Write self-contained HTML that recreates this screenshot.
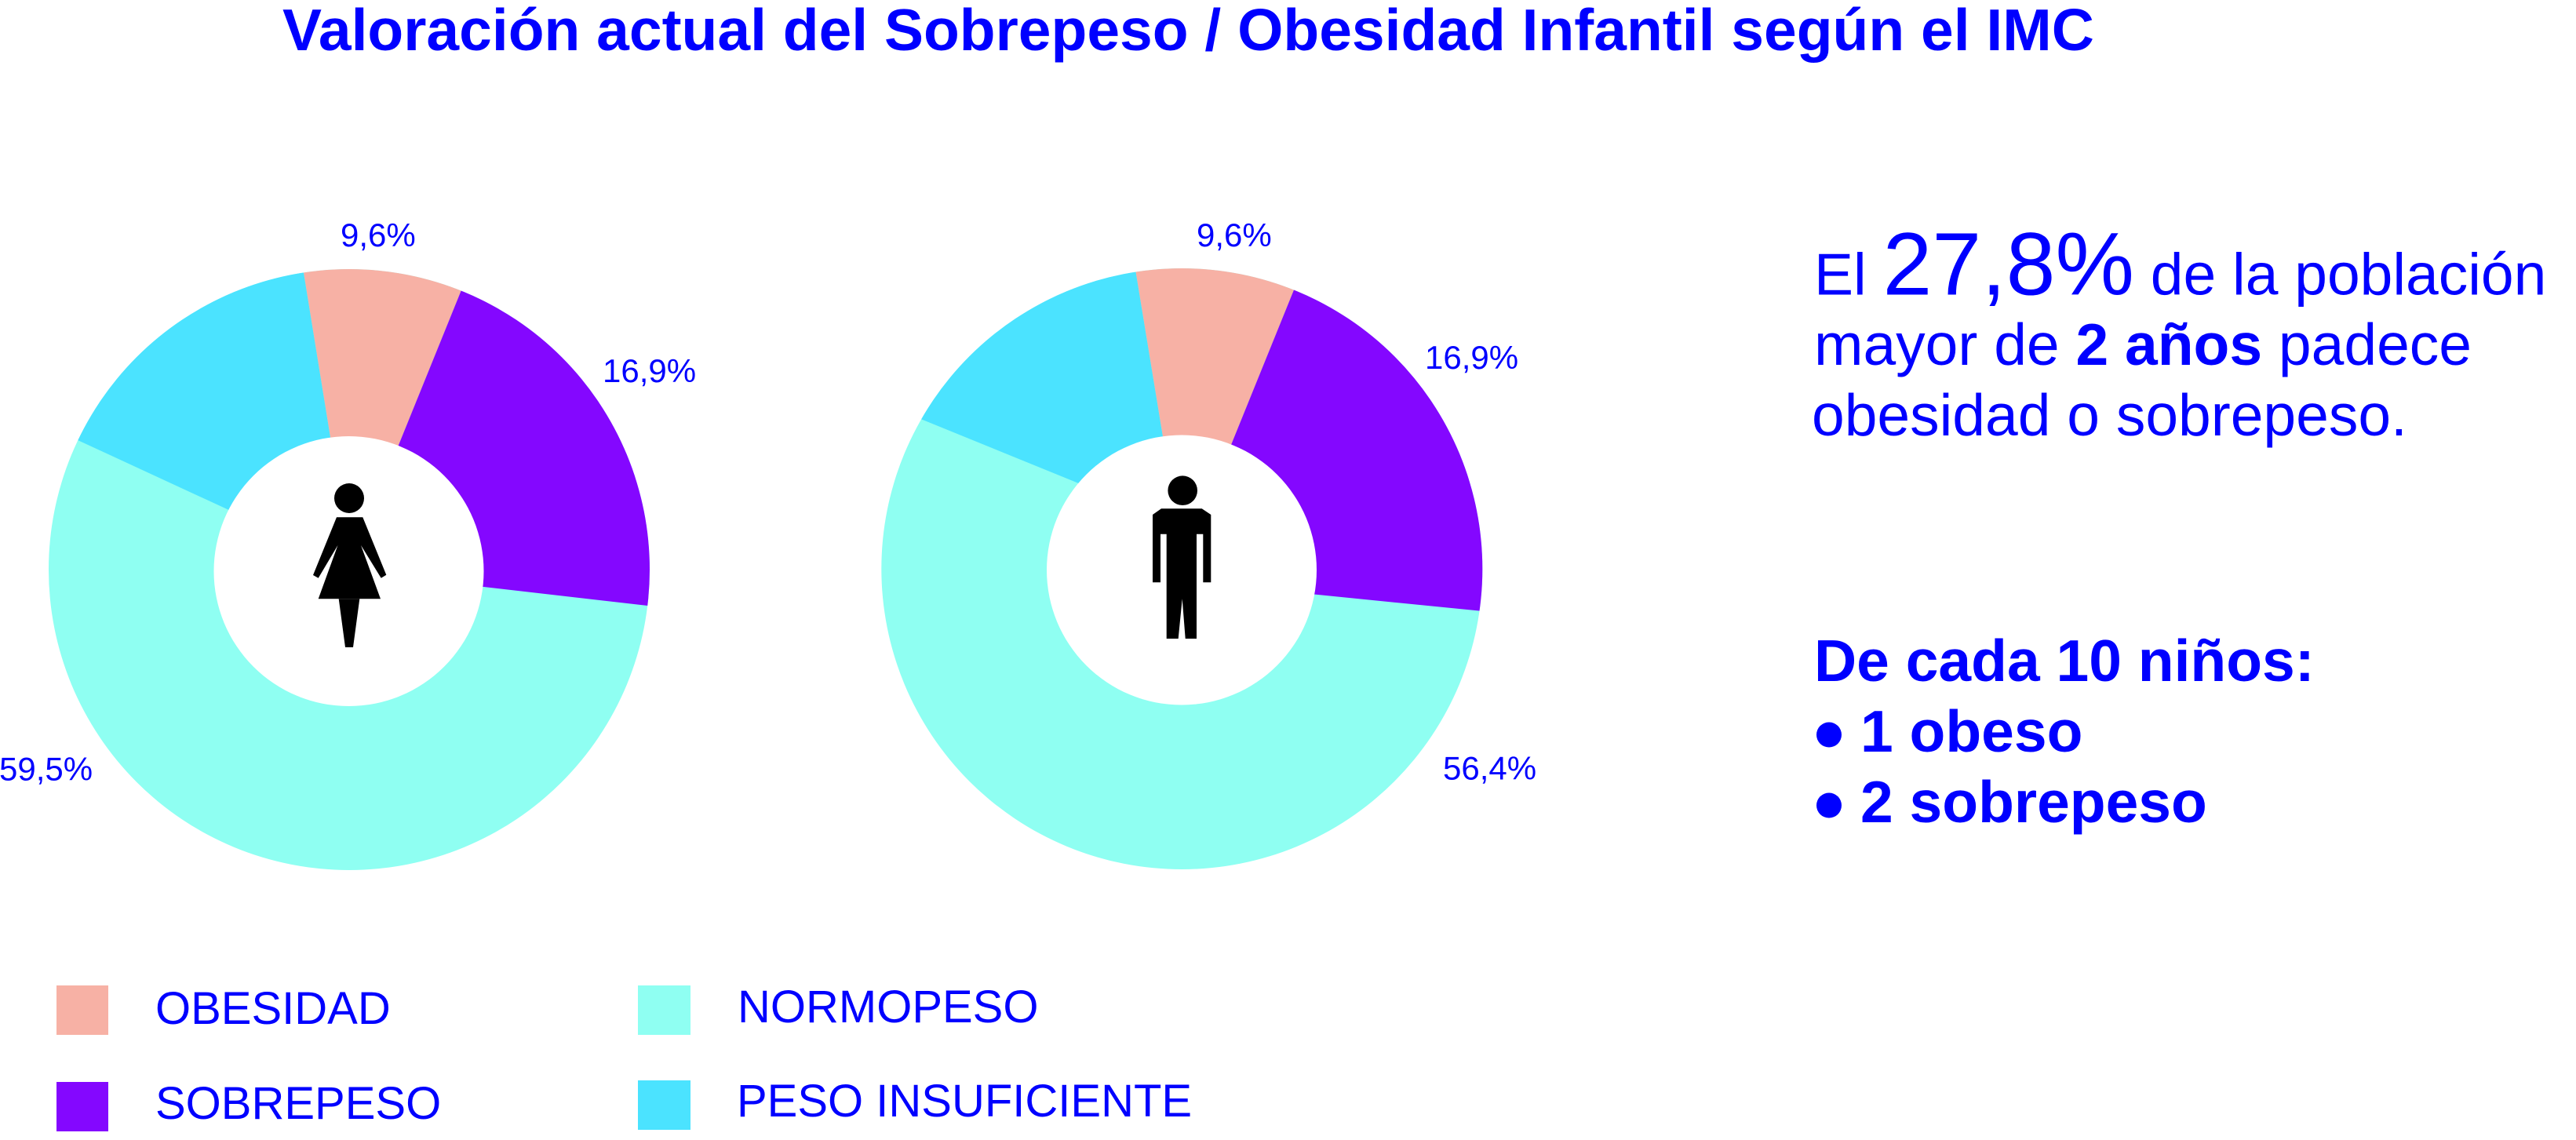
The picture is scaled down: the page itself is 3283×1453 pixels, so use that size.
<!DOCTYPE html>
<html>
<head>
<meta charset="utf-8">
<style>
  html, body { margin: 0; padding: 0; background: #ffffff; }
  body { width: 3283px; height: 1453px; overflow: hidden; }
  svg { display: block; }
  text { font-family: "Liberation Sans", Arial, sans-serif; fill: #0000FF; }
</style>
</head>
<body>
<svg xmlns="http://www.w3.org/2000/svg" width="3283" height="1453" viewBox="0 0 3283 1453">
  <rect x="0" y="0" width="3283" height="1453" fill="#ffffff"/>
  <defs>
    <clipPath id="clipL"><circle cx="445" cy="726" r="383"/></clipPath>
    <clipPath id="clipR"><circle cx="1506.3" cy="725" r="383"/></clipPath>
  </defs>

  <!-- Title -->
  <text x="360" y="64" font-size="75" font-weight="bold">Valoración actual del Sobrepeso / Obesidad Infantil según el IMC</text>

  <!-- LEFT DONUT -->
  <g clip-path="url(#clipL)">
    <rect x="40" y="320" width="820" height="820" fill="#8FFFF2"/>
    <polygon points="328,666.8 -126,457 347,100.8 427.4,596.5" fill="#4BE3FF"/>
    <polygon points="427.4,596.5 347,100.8 680.5,141.4 492.5,605.5" fill="#F7B1A5"/>
    <polygon points="492.5,605.5 680.5,141.4 1073,800.5 576.3,743.4" fill="#8407FF"/>
  </g>
  <circle cx="444.5" cy="728" r="172" fill="#ffffff"/>
  <!-- female icon -->
  <circle cx="445" cy="635" r="19" fill="#000"/>
  <polygon points="429,659.3 462.3,659.3 492.3,732.7 485.7,736.7 460,695 485,763.3 405.7,763.3 430.5,695 405.7,736.7 399,733" fill="#000"/>
  <polygon points="431.7,763.3 458.3,763.3 450,825 440,825" fill="#000"/>

  <text x="434" y="314" font-size="42">9,6%</text>
  <text x="768" y="487" font-size="42">16,9%</text>
  <text x="-1" y="994.5" font-size="42">59,5%</text>

  <!-- RIGHT DONUT -->
  <g clip-path="url(#clipR)">
    <rect x="1100" y="320" width="820" height="820" fill="#8FFFF2"/>
    <polygon points="1411,630.8 944.5,440.7 1407,99.8 1488.5,596" fill="#4BE3FF"/>
    <polygon points="1488.5,596 1407,99.8 1741.9,140.3 1554,604" fill="#F7B1A5"/>
    <polygon points="1554,604 1741.9,140.3 2133.3,803.3 1635.2,753.6" fill="#8407FF"/>
  </g>
  <circle cx="1506" cy="726.5" r="172" fill="#ffffff"/>
  <!-- male icon -->
  <circle cx="1507.2" cy="625.2" r="18.8" fill="#000"/>
  <polygon points="1480,648.3 1531.7,648.3 1543.3,656 1543.3,742.3 1533.3,742.3 1533.3,680.7 1525,680.7 1525,814 1510.7,814 1506.7,763.3 1501.7,814 1486.7,814 1486.7,680.7 1479,680.7 1479,742.3 1469,742.3 1469,656" fill="#000"/>

  <text x="1525" y="314" font-size="42">9,6%</text>
  <text x="1816" y="470" font-size="42">16,9%</text>
  <text x="1839" y="993.5" font-size="42">56,4%</text>

  <!-- Right text block -->
  <text x="2312" y="375.7" font-size="75">El <tspan font-size="113">27,8%</tspan> de la población</text>
  <text x="2312" y="465" font-size="75">mayor de <tspan font-weight="bold">2 años</tspan> padece</text>
  <text x="2309" y="555" font-size="75">obesidad o sobrepeso.</text>

  <text x="2312" y="868" font-size="75" font-weight="bold">De cada 10 niños:</text>
  <circle cx="2331" cy="936.5" r="16" fill="#0000FF"/>
  <text x="2371" y="958" font-size="75" font-weight="bold">1 obeso</text>
  <circle cx="2331" cy="1026.5" r="16" fill="#0000FF"/>
  <text x="2371" y="1048" font-size="75" font-weight="bold">2 sobrepeso</text>

  <!-- Legend -->
  <rect x="72" y="1256" width="66" height="63" fill="#F7B1A5"/>
  <text x="198" y="1305" font-size="58">OBESIDAD</text>
  <rect x="72" y="1379" width="66" height="63" fill="#8407FF"/>
  <text x="198" y="1426" font-size="58">SOBREPESO</text>
  <rect x="813" y="1256" width="67" height="63" fill="#8FFFF2"/>
  <text x="940" y="1303" font-size="58">NORMOPESO</text>
  <rect x="813" y="1377" width="67" height="63" fill="#4BE3FF"/>
  <text x="939" y="1423" font-size="58">PESO INSUFICIENTE</text>
</svg>
</body>
</html>
